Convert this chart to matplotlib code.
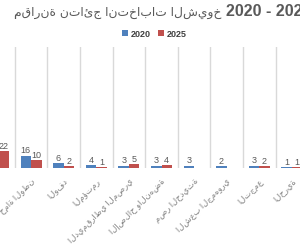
import matplotlib
matplotlib.use("Agg")
import matplotlib.pyplot as plt
import numpy as np

# data
parties = ["مستقبل وطن", "حماة الوطن", "الوفد", "المؤتمر", "الديمقراطي المصري",
           "الإصلاح والنهضة", "مصر الحديثة", "الشعب الجمهوري", "التجمع", "الحرية"]
seats2020 = [149, 16, 6, 4, 3, 3, 3, 2, 3, 1]
seats2025 = [22, 10, 2, 1, 5, 4, 0, 0, 2, 1]
years = ["2020", "2025"]

blue = "#4F81BD"
red = "#C0504D"
grey = "#595959"

def main():
    fig = plt.figure(figsize=(3.0, 2.51), dpi=100)
    ax = fig.add_axes([0.0, 0.3267, 1.0, 0.4821])

    x = np.arange(len(parties))
    w = 0.32
    b1 = ax.bar(x - w / 2, seats2020, w, color=blue, label=years[0], zorder=3)
    b2 = ax.bar(x + w / 2, seats2025, w, color=red, label=years[1], zorder=3)

    # no label for zero bars
    ax.bar_label(b1, labels=[str(v) if v else "" for v in seats2020],
                 padding=1, fontsize=6.5, color=grey, family="Liberation Sans")
    ax.bar_label(b2, labels=[str(v) if v else "" for v in seats2025],
                 padding=1, fontsize=6.5, color=grey, family="Liberation Sans")

    ax.set_xticks(x)
    ax.set_xticklabels(parties, rotation=45, ha="right", rotation_mode="anchor",
                       fontsize=6, color="#808080", family=["Liberation Sans", "DejaVu Sans"])
    ax.tick_params(axis="x", length=0, pad=6)
    ax.set_yticks([])
    ax.set_xticks(np.arange(-0.5, len(parties)), minor=True)
    ax.tick_params(axis="x", which="minor", length=0)
    ax.grid(True, which="minor", axis="x", color="#d9d9d9", linewidth=1, zorder=0)
    for s in ax.spines.values():
        s.set_visible(False)

    # limits after the ticks, otherwise set_xticks widens them
    ax.set_xlim(0.046, 9.248)
    ax.set_ylim(0, max(seats2020) * 1.05)

    # title: arabic part and the years part, as in the reference
    fig.text(14 / 300, 0.936, "مقارنة نتائج انتخابات الشيوخ",
             fontsize=8.8, color=grey, family=["DejaVu Sans"], ha="left", va="baseline")
    fig.text(226 / 300, 0.936, "2020 - 2025",
             fontsize=11.5, fontweight="bold", color=grey,
             family=["Liberation Sans"], ha="left", va="baseline")

    leg = fig.legend(loc="center", bbox_to_anchor=(0.515, 0.862), ncol=2, frameon=False,
                     handlelength=0.7, handleheight=0.7, handletextpad=0.3,
                     columnspacing=0.8, prop={"family": "Liberation Sans", "size": 6.5, "weight": "bold"})
    for t in leg.get_texts():
        t.set_color("#404040")

    fig.savefig("out.png", dpi=100)

if __name__ == '__main__':
    main()
